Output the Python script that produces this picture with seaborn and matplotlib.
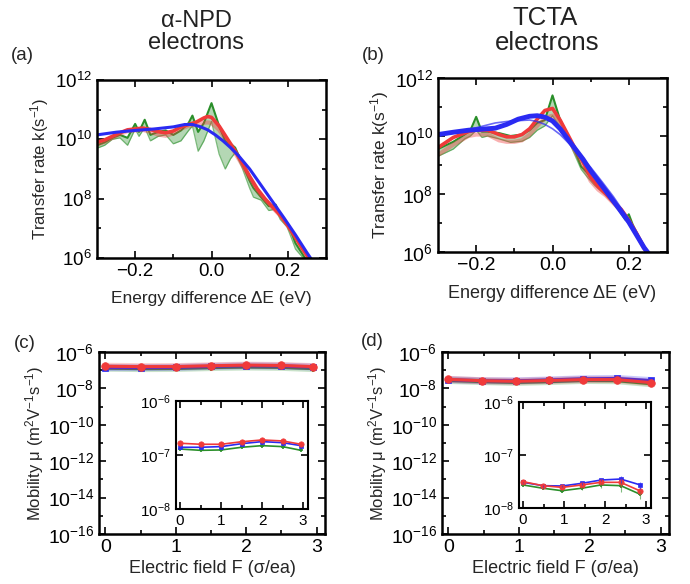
import numpy as np
import seaborn as sns
import matplotlib.pyplot as plt
from matplotlib.ticker import NullFormatter, FuncFormatter

# ---------------- transfer rates: log10 k (s^-1) vs energy difference (eV) ----------------
# alpha-NPD, green family (upper / lower envelope)
npd_g_E = [-0.30, -0.28, -0.26, -0.24, -0.22, -0.20, -0.19, -0.175, -0.16, -0.14, -0.12, -0.10,
           -0.08, -0.06, -0.05, -0.035, -0.02, 0.00, 0.02, 0.036, 0.05, 0.062, 0.08, 0.10,
           0.11, 0.13, 0.15, 0.168, 0.18, 0.198, 0.21, 0.22, 0.24, 0.25]
npd_g_hi = [9.80, 9.90, 10.05, 10.15, 10.05, 10.52, 10.25, 10.66, 10.15, 10.25, 10.30, 10.15,
            10.30, 10.55, 10.80, 10.25, 10.55, 11.22, 10.45, 9.95, 9.85, 9.72, 9.20, 8.60,
            8.36, 8.05, 7.75, 7.80, 7.45, 7.18, 6.85, 6.50, 6.10, 5.90]
npd_g_lo = [9.70, 9.80, 10.00, 10.05, 9.80, 10.35, 10.10, 10.40, 9.95, 10.10, 10.15, 9.85,
            9.95, 10.30, 10.45, 9.60, 9.95, 10.60, 9.50, 9.00, 9.35, 9.55, 9.05, 8.35,
            8.05, 7.95, 7.60, 7.65, 7.30, 7.05, 6.65, 6.30, 6.00, 5.85]
# alpha-NPD, red family
npd_r_E = [-0.30, -0.28, -0.26, -0.24, -0.22, -0.20, -0.18, -0.16, -0.14, -0.12, -0.10, -0.08,
           -0.06, -0.04, -0.02, -0.01, 0.00, 0.02, 0.04, 0.06, 0.08, 0.10, 0.12, 0.14,
           0.16, 0.18, 0.20, 0.22, 0.24, 0.26]
npd_r = [9.90, 9.98, 10.10, 10.22, 10.32, 10.35, 10.38, 10.33, 10.26, 10.22, 10.28, 10.42,
         10.50, 10.58, 10.72, 10.77, 10.74, 10.45, 10.05, 9.65, 9.22, 8.75, 8.33, 8.00,
         7.72, 7.45, 7.10, 6.70, 6.28, 5.90]
npd_r_lo = [9.82, 9.92, 10.05, 10.18, 10.28, 10.30, 10.32, 10.25, 10.16, 10.12, 10.20, 10.36,
            10.45, 10.50, 10.56, 10.57, 10.55, 10.32, 9.95, 9.58, 9.15, 8.70, 8.28, 7.96,
            7.70, 7.43, 7.08, 6.68, 6.26, 5.88]
# alpha-NPD, blue
npd_b_E = [-0.30, -0.25, -0.20, -0.15, -0.10, -0.07, -0.05, -0.03, -0.01, 0.01, 0.03, 0.05,
           0.07, 0.10, 0.13, 0.16, 0.19, 0.22, 0.25, 0.27]
npd_b = [10.15, 10.24, 10.30, 10.35, 10.42, 10.50, 10.50, 10.43, 10.32, 10.15, 9.95, 9.72,
         9.46, 9.00, 8.45, 7.90, 7.35, 6.78, 6.18, 5.80]

# TCTA, green family
tcta_g_E = [-0.30, -0.26, -0.23, -0.215, -0.20, -0.185, -0.17, -0.14, -0.11, -0.08, -0.06,
            -0.04, -0.02, 0.00, 0.02, 0.04, 0.06, 0.075, 0.09, 0.11, 0.14, 0.17, 0.19,
            0.20, 0.21, 0.23, 0.25]
tcta_g_hi = [9.55, 9.80, 10.05, 10.20, 10.66, 10.15, 10.15, 10.10, 10.00, 10.05, 10.20,
             10.45, 10.55, 11.40, 10.55, 10.05, 9.45, 8.95, 8.75, 8.40, 8.05, 7.55, 7.15,
             7.30, 6.95, 6.40, 5.90]
tcta_g_lo = [9.30, 9.55, 9.90, 10.00, 10.20, 9.95, 10.00, 9.90, 9.78, 9.82, 9.95,
             10.20, 10.35, 10.70, 10.30, 9.90, 9.30, 8.85, 8.60, 8.30, 7.95, 7.50, 7.10,
             7.05, 6.85, 6.35, 5.85]
# TCTA, red family
tcta_r_E = [-0.30, -0.26, -0.22, -0.20, -0.17, -0.14, -0.12, -0.10, -0.08, -0.06, -0.04,
            -0.02, 0.00, 0.02, 0.04, 0.06, 0.08, 0.10, 0.12, 0.14, 0.16, 0.18, 0.20,
            0.22, 0.24, 0.26]
tcta_r = [9.60, 9.95, 10.15, 10.20, 10.20, 10.05, 9.97, 9.97, 10.05, 10.25, 10.58,
          10.88, 10.95, 10.55, 10.05, 9.55, 9.10, 8.58, 8.25, 8.00, 7.72, 7.47, 7.10,
          6.65, 6.15, 5.75]
tcta_r_lo = [9.35, 9.70, 10.00, 10.05, 10.05, 9.85, 9.80, 9.80, 9.85, 10.05, 10.35,
             10.62, 10.70, 10.40, 9.95, 9.45, 9.00, 8.45, 8.15, 7.95, 7.68, 7.42, 7.05,
             6.62, 6.12, 5.72]
# TCTA, blue (thick) and thin variant
tcta_b_E = [-0.30, -0.26, -0.22, -0.18, -0.15, -0.12, -0.09, -0.06, -0.04, -0.02, 0.00,
            0.02, 0.05, 0.08, 0.10, 0.13, 0.16, 0.20, 0.24, 0.26]
tcta_b = [10.05, 10.13, 10.20, 10.24, 10.27, 10.40, 10.58, 10.68, 10.70, 10.65, 10.52,
          10.25, 9.72, 9.20, 8.80, 8.28, 7.75, 7.03, 6.15, 5.80]
tcta_b_thin = [10.00, 10.10, 10.22, 10.35, 10.45, 10.50, 10.53, 10.55, 10.50, 10.40, 10.25,
               10.05, 9.65, 9.20, 8.92, 8.42, 7.90, 7.12, 6.20, 5.85]

# ---------------- mobilities (m^2 V^-1 s^-1) vs electric field (sigma/ea) ----------------
field_npd = [0.0, 0.5, 1.0, 1.5, 2.0, 2.5, 2.95]
mu_npd_red = [1.65e-7, 1.58e-7, 1.58e-7, 1.76e-7, 1.90e-7, 1.82e-7, 1.58e-7]
mu_npd_blue = [1.39e-7, 1.39e-7, 1.43e-7, 1.62e-7, 1.77e-7, 1.69e-7, 1.49e-7]
mu_npd_green = [1.29e-7, 1.22e-7, 1.24e-7, 1.39e-7, 1.49e-7, 1.43e-7, 1.22e-7]

field_tcta = [0.0, 0.48, 0.95, 1.43, 1.90, 2.38, 2.86]
mu_tcta_blue = [3.05e-8, 2.64e-8, 2.60e-8, 2.92e-8, 3.37e-8, 3.52e-8, 2.72e-8]
mu_tcta_red = [3.14e-8, 2.64e-8, 2.45e-8, 2.72e-8, 3.05e-8, 3.05e-8, 2.09e-8]
mu_tcta_green = [2.72e-8, 2.36e-8, 2.12e-8, 2.36e-8, 2.72e-8, 2.64e-8, 1.81e-8]
err_tcta_blue = [0.1e-8, 0.1e-8, 0.1e-8, 0.15e-8, 0.2e-8, 0.5e-8, 0.4e-8]
err_tcta_red = [0.1e-8, 0.1e-8, 0.1e-8, 0.15e-8, 0.25e-8, 0.6e-8, 0.35e-8]
err_tcta_green = [0.1e-8, 0.1e-8, 0.1e-8, 0.15e-8, 0.3e-8, 0.6e-8, 0.3e-8]

GREEN = '#2a8f2a'
RED = '#f03a3a'
BLUE = '#2a2af2'

sns.set_theme(style="ticks")
plt.rcParams['font.family'] = ['Liberation Sans', 'DejaVu Sans']
plt.rcParams['mathtext.fontset'] = 'custom'
plt.rcParams['mathtext.rm'] = 'Liberation Sans'
plt.rcParams['mathtext.it'] = 'Liberation Sans:italic'
plt.rcParams['mathtext.bf'] = 'Liberation Sans:bold'
plt.rcParams['mathtext.default'] = 'regular'
plt.rcParams['axes.unicode_minus'] = True

W, H = 690, 584
fig = plt.figure(figsize=(W / 100, H / 100), dpi=100)


def add_ax(left, top, right, bottom):
    # pixel box -> figure fraction
    return fig.add_axes([left / W, 1 - bottom / H, (right - left) / W, (bottom - top) / H])


pow10 = FuncFormatter(lambda v, p: r'$10^{%d}$' % round(np.log10(v)))


def frame(ax, lw=1.8, size=12):
    for s in ax.spines.values():
        s.set_linewidth(lw)
        s.set_color('black')
    ax.tick_params(which='both', direction='in', top=True, right=True,
                   width=1.2, labelsize=size, colors='black')
    ax.tick_params(which='major', length=5)
    ax.tick_params(which='minor', length=3)


def rate_panel(ax, gE, ghi, glo, rE, r, rlo, bE, b, b_thin=None, tsize=13.5, lsize=12.5):
    ax.fill_between(gE, 10 ** np.array(glo), 10 ** np.array(ghi), color=GREEN, alpha=0.35, lw=0)
    sns.lineplot(x=gE, y=10 ** np.array(glo), ax=ax, color=GREEN, lw=0.9, alpha=0.6)
    sns.lineplot(x=gE, y=10 ** np.array(ghi), ax=ax, color=GREEN, lw=1.5)
    sns.lineplot(x=rE, y=10 ** np.array(rlo), ax=ax, color=RED, lw=3, alpha=0.4)
    sns.lineplot(x=rE, y=10 ** np.array(r), ax=ax, color=RED, lw=2.6)
    if b_thin is not None:
        sns.lineplot(x=bE, y=10 ** np.array(b_thin), ax=ax, color=BLUE, lw=1.2, alpha=0.7)
        sns.lineplot(x=bE, y=10 ** np.array(b), ax=ax, color=BLUE, lw=3.5)
    else:
        sns.lineplot(x=bE, y=10 ** np.array(b), ax=ax, color=BLUE, lw=2.2)
    ax.set_yscale('log')
    ax.set_xlim(-0.3, 0.3)
    ax.set_ylim(1e6, 1e12)
    ax.set_yticks([1e6, 1e8, 1e10, 1e12])
    ax.set_yticks([1e7, 1e9, 1e11], minor=True)
    ax.yaxis.set_major_formatter(pow10)
    ax.yaxis.set_minor_formatter(NullFormatter())
    ax.set_xticks([-0.2, 0.0, 0.2])
    ax.set_xticks([-0.1, 0.1], minor=True)
    ax.set_xticklabels(['\u22120.2', '0.0', '0.2'])
    frame(ax, size=tsize)
    ax.set_xlabel('Energy difference \u0394E (eV)', fontsize=lsize, labelpad=8)
    ax.set_ylabel('Transfer rate k(s$^{-1}$)', fontsize=lsize - 0.5, labelpad=3)


def mobility_lines(ax, F, red, blue, green, main=True, errs=None):
    ms = 1.0 if main else 0.7
    for vals, col, mk, size in [(green, GREEN, '+', 5), (blue, BLUE, 's', 4), (red, RED, 'o', 5.5)]:
        if main:
            sns.lineplot(x=F, y=vals, ax=ax, color=col, lw=5, alpha=0.25)
        sns.lineplot(x=F, y=vals, ax=ax, color=col, lw=2.2 if main else 1.2,
                     marker=mk, markersize=size * ms, markeredgecolor=col,
                     markeredgewidth=1.2 if mk == '+' else 0.5)
    if errs is not None:
        for vals, col, e in zip([green, red, blue], [GREEN, RED, BLUE], errs):
            ax.errorbar(F, vals, yerr=e, fmt='none', ecolor=col, elinewidth=0.8, alpha=0.6)


def mobility_panel(ax, F, red, blue, green, errs=None):
    mobility_lines(ax, F, red, blue, green, main=True)
    ax.set_yscale('log')
    ax.set_xlim(-0.09, 3.12)
    ax.set_ylim(1e-16, 1e-6)
    ax.set_yticks([1e-16, 1e-14, 1e-12, 1e-10, 1e-8, 1e-6])
    ax.set_yticks([1e-15, 1e-13, 1e-11, 1e-9, 1e-7], minor=True)
    ax.yaxis.set_major_formatter(pow10)
    ax.yaxis.set_minor_formatter(NullFormatter())
    ax.set_xticks([0, 1, 2, 3])
    ax.set_xticks([0.5, 1.5, 2.5], minor=True)
    frame(ax, size=14)
    ax.set_xlabel('Electric field F (\u03c3/ea)', fontsize=13, labelpad=3)
    ax.set_ylabel('Mobility \u03bc (m$^2$V$^{-1}$s$^{-1}$)', fontsize=12, labelpad=1)


def mobility_inset(ax, F, red, blue, green, errs=None):
    mobility_lines(ax, F, red, blue, green, main=False, errs=errs)
    ax.set_yscale('log')
    ax.set_xlim(-0.1, 3.12)
    ax.set_ylim(1e-8, 1e-6)
    ax.set_yticks([1e-8, 1e-7, 1e-6])
    ax.yaxis.set_major_formatter(pow10)
    ax.yaxis.set_minor_locator(plt.NullLocator())
    ax.set_xticks([0, 1, 2, 3])
    ax.set_xticks([0.5, 1.5, 2.5], minor=True)
    frame(ax, lw=1.5, size=11)
    ax.set_xlabel('')
    ax.set_ylabel('')


# (a) alpha-NPD transfer rates
ax_a = add_ax(97, 80, 326, 258)
rate_panel(ax_a, npd_g_E, npd_g_hi, npd_g_lo, npd_r_E, npd_r, npd_r_lo, npd_b_E, npd_b)

# (b) TCTA transfer rates
ax_b = add_ax(438, 78, 667, 252)
rate_panel(ax_b, tcta_g_E, tcta_g_hi, tcta_g_lo, tcta_r_E, tcta_r, tcta_r_lo, tcta_b_E, tcta_b,
           b_thin=tcta_b_thin, tsize=14, lsize=13)

# (c) alpha-NPD mobility
ax_c = add_ax(99, 352, 325, 534)
mobility_panel(ax_c, field_npd, mu_npd_red, mu_npd_blue, mu_npd_green)
ax_ci = add_ax(176, 401, 308, 509)
mobility_inset(ax_ci, field_npd, mu_npd_red, mu_npd_blue, mu_npd_green)

# (d) TCTA mobility
ax_d = add_ax(442, 352, 669, 534)
mobility_panel(ax_d, field_tcta, mu_tcta_red, mu_tcta_blue, mu_tcta_green)
ax_di = add_ax(519, 402, 651, 508)
mobility_inset(ax_di, field_tcta, mu_tcta_red, mu_tcta_blue, mu_tcta_green,
               errs=[err_tcta_green, err_tcta_red, err_tcta_blue])

# titles and panel letters
fig.text(196 / W, 1 - 21 / H, '\u03b1-NPD', ha='center', va='center', fontsize=17, color='#222222')
fig.text(196 / W, 1 - 43 / H, 'electrons', ha='center', va='center', fontsize=17, color='#222222')
fig.text(545 / W, 1 - 18 / H, 'TCTA', ha='center', va='center', fontsize=18.5, color='#222222')
fig.text(547 / W, 1 - 43 / H, 'electrons', ha='center', va='center', fontsize=18.5, color='#222222')
fig.text(22 / W, 1 - 56 / H, '(a)', ha='center', va='center', fontsize=13.5)
fig.text(373 / W, 1 - 56 / H, '(b)', ha='center', va='center', fontsize=13.5)
fig.text(25 / W, 1 - 344 / H, '(c)', ha='center', va='center', fontsize=13.5)
fig.text(372 / W, 1 - 341 / H, '(d)', ha='center', va='center', fontsize=13.5)

fig.savefig('out.png', dpi=100, facecolor='white')
